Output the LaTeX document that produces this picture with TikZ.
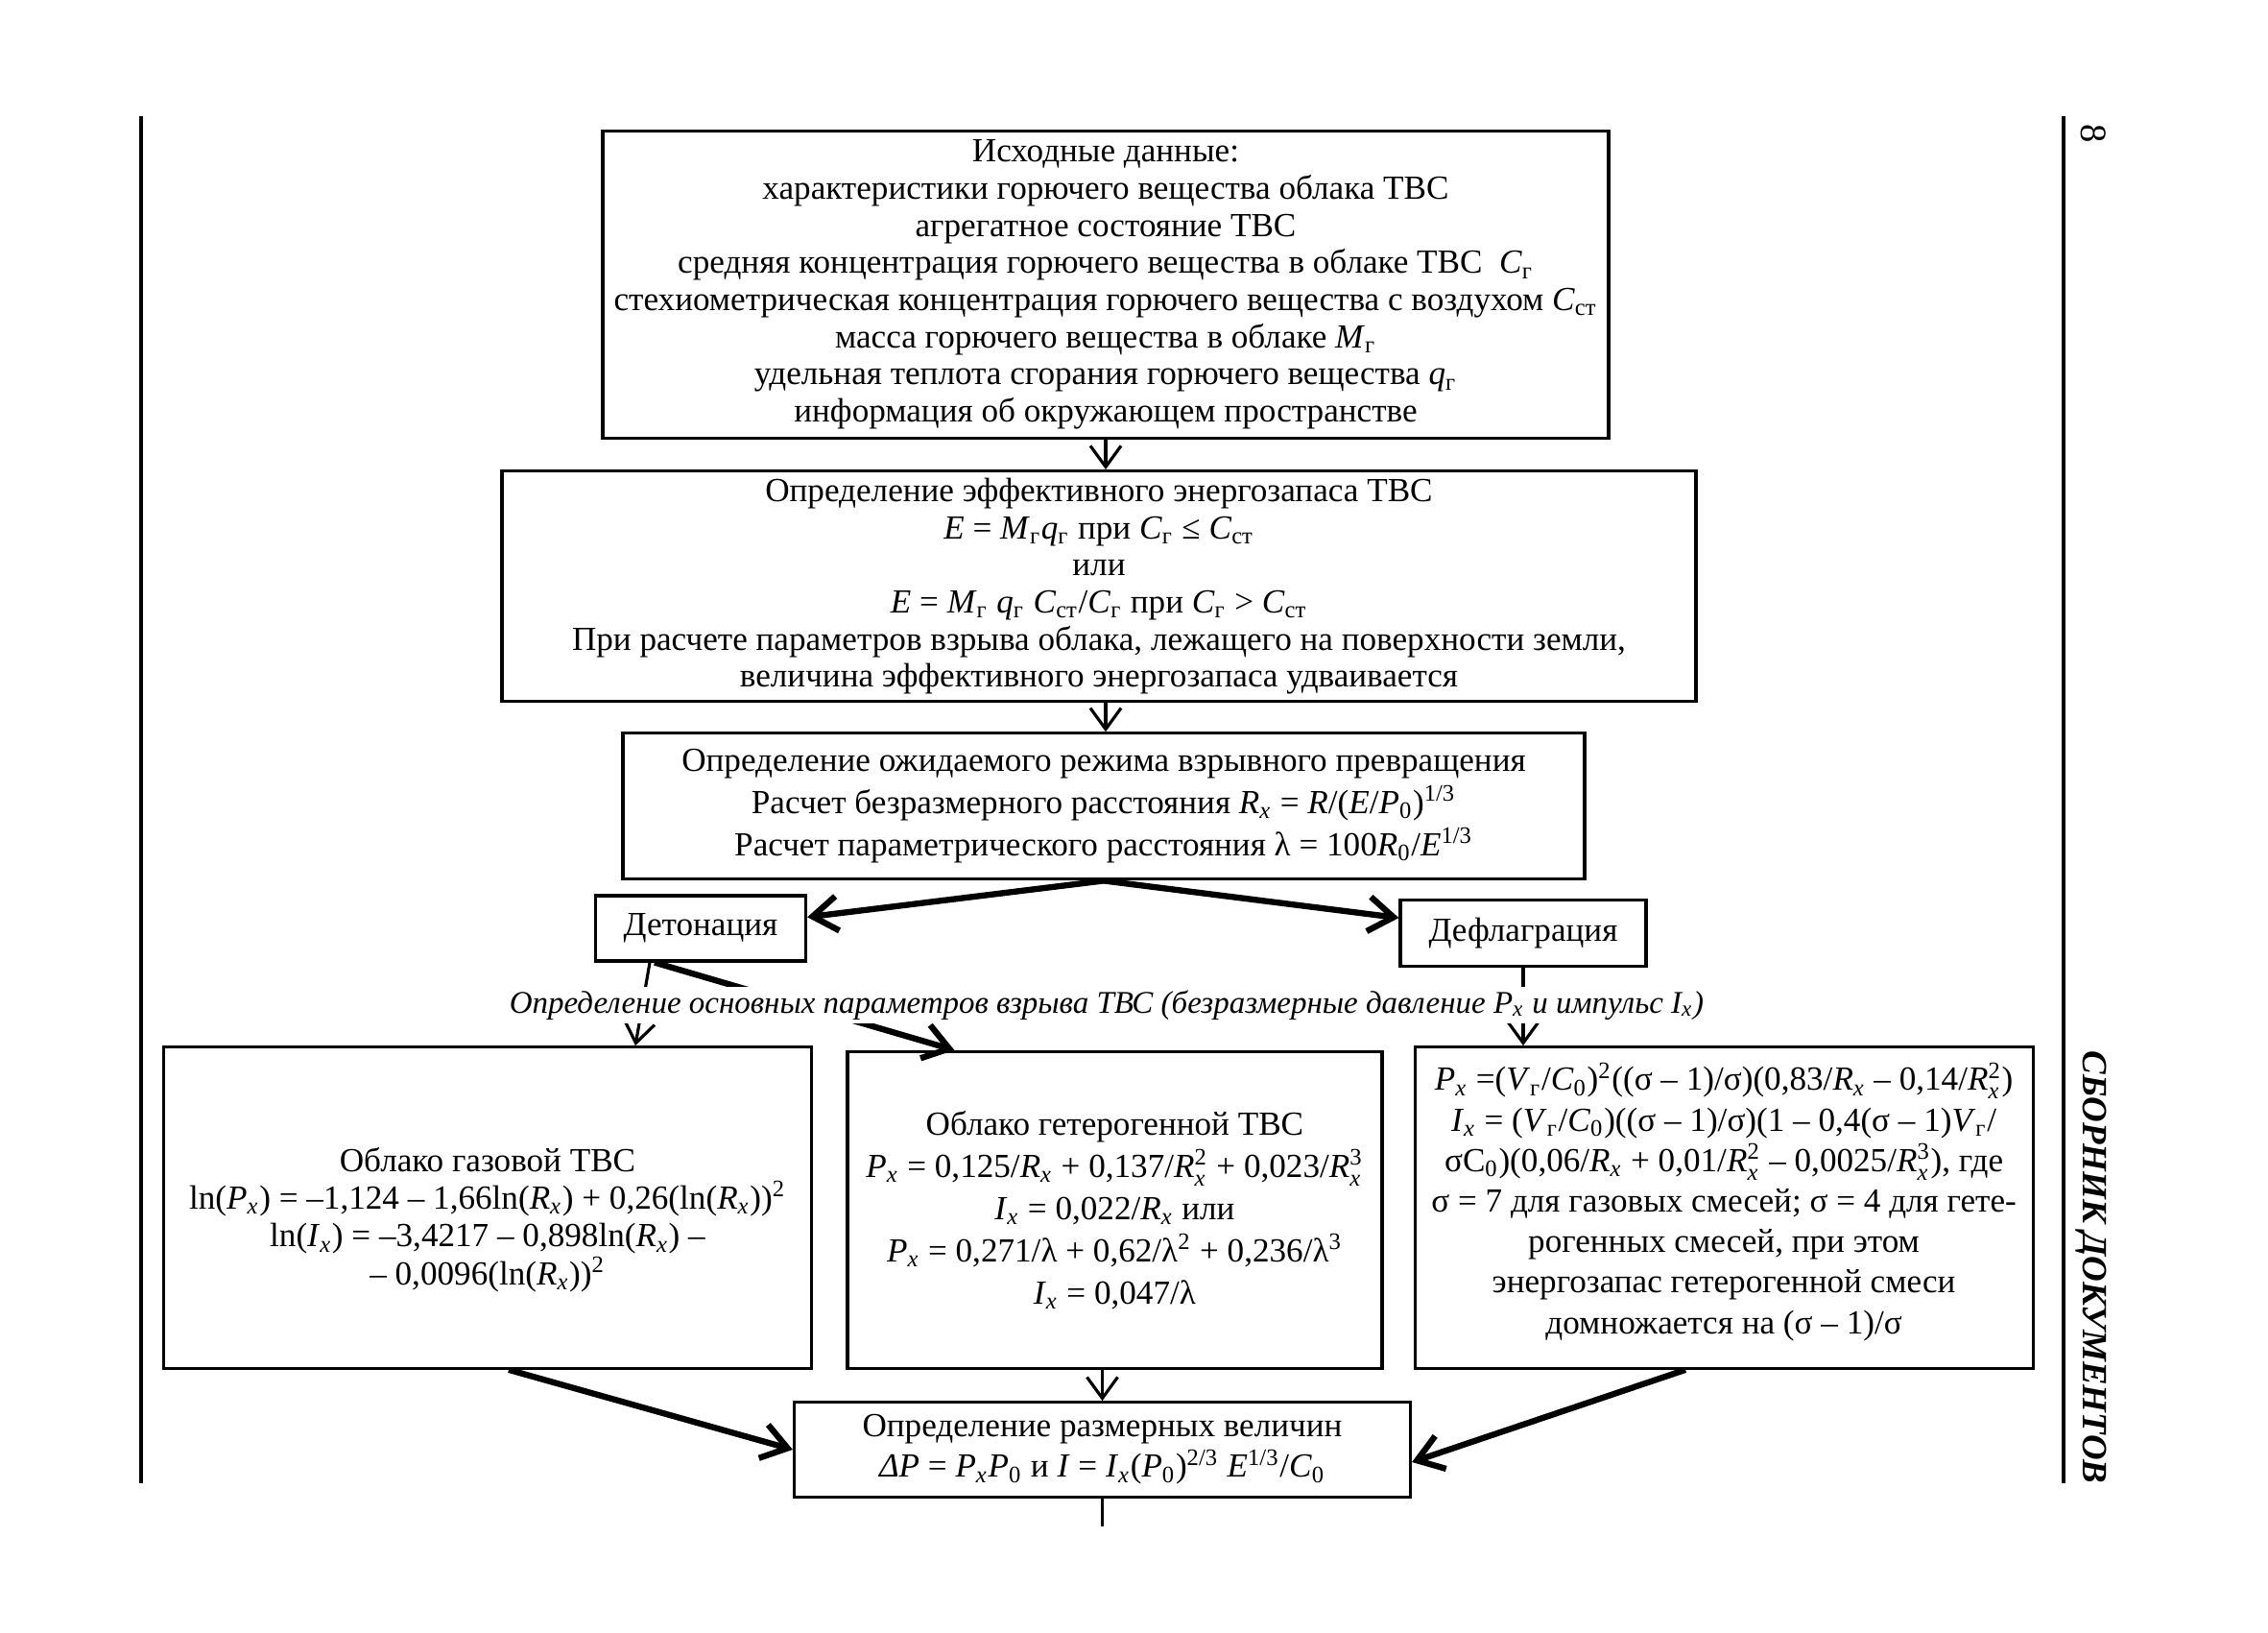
\documentclass[tikz,border=0pt]{standalone}
\usepackage{amsmath}
\usepackage{fontspec}
\setmainfont{Liberation Serif}
\usetikzlibrary{positioning,arrows.meta}

\newcommand{\lsub}[2]{\textit{#1}\textsubscript{#2}}
\newcommand{\lx}[1]{\textit{#1}\textsubscript{\textit{x}}}
\newcommand{\lxp}[2]{\textit{#1}$_{\textit{x}}^{\text{#2}}$}

\begin{document}
\begin{tikzpicture}[
	box/.style={draw, line width=0.9pt, align=center, inner sep=2pt, font=\fontsize{10}{11}\selectfont},
	thin arrow/.style={line width=0.9pt, -{Straight Barb[length=2.2mm, width=3.2mm]}},
	thick arrow/.style={line width=1.8pt, -{Straight Barb[length=2.6mm, width=3.6mm]}}
]
	\useasboundingbox (0,0) rectangle (23.63,-17.01);

	% Page frame
	\draw[line width=0.9pt] (1.47,-1.21) -- (1.47,-15.45);
	\draw[line width=0.9pt] (21.50,-1.21) -- (21.50,-15.45);
	\node[rotate=-90, font=\fontsize{11}{13}\selectfont] (pagenum) at (21.81,-1.39) {8};
	\node[rotate=-90, font=\bfseries\itshape\fontsize{10.5}{13}\selectfont] (title) at (21.79,-13.2) {СБОРНИК ДОКУМЕНТОВ};

	% Define nodes
	\node[box, minimum width=10.48cm, minimum height=3.2cm] (data) at (11.52,-2.965) {Исходные данные:\\
		характеристики горючего вещества облака ТВС\\
		агрегатное состояние ТВС\\
		средняя концентрация горючего вещества в облаке ТВС~~\lsub{C}{г}\\
		стехиометрическая концентрация горючего вещества с воздухом \lsub{C}{ст}\\
		масса горючего вещества в облаке \lsub{M}{г}\\
		удельная теплота сгорания горючего вещества \lsub{q}{г}\\
		информация об окружающем пространстве};
	\node[box, below=0.31cm of data, xshift=-0.07cm, minimum width=12.44cm, minimum height=2.40cm] (energy) {Определение эффективного энергозапаса ТВС\\
		\textit{E} = \lsub{M}{г}\lsub{q}{г} при \lsub{C}{г} ≤ \lsub{C}{ст}\\
		или\\
		\textit{E} = \lsub{M}{г} \lsub{q}{г} \lsub{C}{ст}/\lsub{C}{г} при \lsub{C}{г} > \lsub{C}{ст}\\
		При расчете параметров взрыва облака, лежащего на поверхности земли,\\
		величина эффективного энергозапаса удваивается};
	\node[box, below=0.30cm of energy, xshift=0.05cm, minimum width=10.02cm, minimum height=1.52cm, font=\fontsize{10}{12.5}\selectfont] (mode) {Определение ожидаемого режима взрывного превращения\\
		Расчет безразмерного расстояния \lx{R} = \textit{R}/(\textit{E}/\lsub{P}{0})\textsuperscript{1/3}\\
		Расчет параметрического расстояния λ = 100\lsub{R}{0}/\textit{E}\textsuperscript{1/3}};
	\node[box, minimum width=2.19cm, minimum height=0.68cm] (det) at (7.30,-9.67) {Детонация};
	\node[box, minimum width=2.56cm, minimum height=0.69cm] (defl) at (15.87,-9.72) {Дефлаграция};
	\node[box, minimum width=6.745cm, minimum height=3.345cm, font=\fontsize{10}{11.2}\selectfont] (gas) at (5.08,-12.58) {\rule{0pt}{0.5cm}Облако газовой ТВС\\
		ln(\lx{P}) = –1,124 – 1,66ln(\lx{R}) + 0,26(ln(\lx{R}))\textsuperscript{2}\\
		ln(\lx{I}) = –3,4217 – 0,898ln(\lx{R}) –\\
		– 0,0096(ln(\lx{R}))\textsuperscript{2}};
	\node[box, right=0.345cm of gas, yshift=-0.025cm, minimum width=5.57cm, minimum height=3.30cm, font=\fontsize{10}{12.5}\selectfont] (het) {Облако гетерогенной ТВС\\
		\lx{P} = 0,125/\lx{R} + 0,137/\lxp{R}{2} + 0,023/\lxp{R}{3}\\
		\lx{I} = 0,022/\lx{R} или\\
		\lx{P} = 0,271/λ + 0,62/λ\textsuperscript{2} + 0,236/λ\textsuperscript{3}\\
		\lx{I} = 0,047/λ};
	\node[box, right=0.31cm of het, yshift=0.025cm, minimum width=6.44cm, minimum height=3.345cm, font=\fontsize{10}{12}\selectfont] (mix) {\lx{P} =(\lsub{V}{г}/\lsub{C}{0})\textsuperscript{2}((σ – 1)/σ)(0,83/\lx{R} – 0,14/\lxp{R}{2})\\
		\lx{I} = (\lsub{V}{г}/\lsub{C}{0})((σ – 1)/σ)(1 – 0,4(σ – 1)\lsub{V}{г}/\\
		σC\textsubscript{0})(0,06/\lx{R} + 0,01/\lxp{R}{2} – 0,0025/\lxp{R}{3}), где\\
		σ = 7 для газовых смесей; σ = 4 для гете-\\
		рогенных смесей, при этом\\
		энергозапас гетерогенной смеси\\
		домножается на (σ – 1)/σ\rule[-0.2cm]{0pt}{0pt}};
	\node[box, minimum width=6.42cm, minimum height=0.985cm, font=\fontsize{10}{12}\selectfont] (res) at (11.485,-15.10) {Определение размерных величин\\
		\textit{ΔP} = \lx{P}\lsub{P}{0} и \textit{I} = \lx{I}(\lsub{P}{0})\textsuperscript{2/3} \textit{E}\textsuperscript{1/3}/\lsub{C}{0}};
	\coordinate[below=0.29cm of res] (tail);

	% Connect the nodes
	\draw[thin arrow] (data.south) -- (data.south |- energy.north);
	\draw[thin arrow] (data.south |- energy.south) -- (data.south |- mode.north);
	\draw[thick arrow] (mode.south) -- (det.6);
	\draw[thick arrow] (mode.south) -- (defl.173);
	\draw[thin arrow] ([xshift=-0.53cm]det.south) -- ([xshift=1.54cm]gas.north);
	\draw[thick arrow] ([xshift=-0.48cm]det.south) -- ([xshift=-1.67cm]het.north);
	\draw[thin arrow] (defl.south) -- (defl.south |- mix.north);
	\node[fill=white, inner sep=1pt, font=\itshape\fontsize{9.38}{11}\selectfont] (params) at (11.53,-10.47) {Определение основных параметров взрыва ТВС (безразмерные давление \lx{P} и импульс \lx{I})};
	\draw[thick arrow] ([xshift=0.22cm]gas.south) -- (res.west);
	\draw[thin arrow] (res.north |- het.south) -- (res.north);
	\draw[thick arrow] ([xshift=-0.40cm]mix.south) -- ([yshift=-0.13cm]res.east);
	\draw[line width=0.9pt] (res) -- (tail);
\end{tikzpicture}
\end{document}
